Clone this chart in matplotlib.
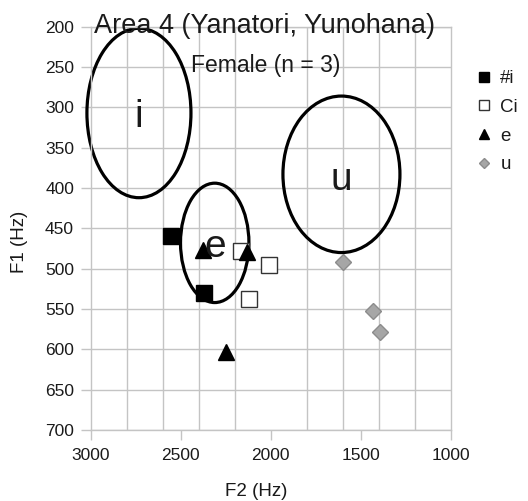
import matplotlib
matplotlib.use('Agg')
import matplotlib.pyplot as plt
from matplotlib.patches import Ellipse
from matplotlib.lines import Line2D

plt.rcParams['font.family'] = ['Liberation Sans', 'DejaVu Sans']

# ── Data (F2, F1 in Hz) ──────────────────────────────────────────────────
HASH_I_F2 = [2556, 2371]
HASH_I_F1 = [460, 530]
CI_F2 = [2167, 2008, 2122]
CI_F1 = [478, 495, 538]
E_F2 = [2376, 2133, 2248]
E_F1 = [477, 479, 603]
U_F2 = [1597, 1433, 1391]
U_F1 = [492, 553, 579]

# reference vowel ellipses: label, centre F2, centre F1, half-width F2, half-height F1
VOWEL_LABELS = ['i', 'e', 'u']
VOWEL_F2 = [2732, 2311, 1607]
VOWEL_F1 = [307, 468, 383]
VOWEL_W = [289, 190, 325]
VOWEL_H = [105, 74, 97]
LABEL_F1 = [324, 486, 402]   # baseline of letter inside ellipse

X_TICKS = [3000, 2500, 2000, 1500, 1000]
Y_TICKS = list(range(200, 701, 50))

GRID = '#c4c4c4'
TXT = '#1a1a1a'

fig = plt.figure(figsize=(5.28, 5.01), dpi=100)
ax = fig.add_axes([90.7 / 528, 1 - 430 / 501, 360 / 528, 403.3 / 501])

ax.set_xlim(3000, 1000)
ax.set_ylim(700, 200)
ax.set_xticks(X_TICKS)
ax.set_xticks(range(1000, 3001, 200), minor=True)
ax.set_yticks(Y_TICKS)
ax.grid(True, which='minor', axis='x', color=GRID, linewidth=1)
ax.grid(True, which='major', axis='y', color=GRID, linewidth=1)
ax.tick_params(axis='x', which='minor', length=0)
ax.tick_params(which='major', length=7, color=GRID, width=1,
               labelsize=12.5, labelcolor=TXT, pad=5)
ax.tick_params(axis='x', which='major', pad=6)
for s in ax.spines.values():
    s.set_color(GRID)
    s.set_linewidth(1)
ax.set_axisbelow(True)

# ellipses + letters
for lab, cx, cy, w, h, ly in zip(VOWEL_LABELS, VOWEL_F2, VOWEL_F1,
                                 VOWEL_W, VOWEL_H, LABEL_F1):
    ax.add_patch(Ellipse((cx, cy), 2 * w, 2 * h, fill=False,
                         edgecolor='black', linewidth=2.3, zorder=2,
                         clip_on=False))
    ax.text(cx, ly, lab, fontsize=28, ha='center', va='baseline',
            color=TXT, zorder=4)

# data points
ax.plot(HASH_I_F2, HASH_I_F1, ls='none', marker='s', ms=12,
        mfc='black', mec='black', zorder=3, clip_on=False)
ax.plot(CI_F2, CI_F1, ls='none', marker='s', ms=11.5,
        mfc='white', mec='#333333', mew=1, zorder=3)
ax.plot(E_F2, E_F1, ls='none', marker='^', ms=11,
        mfc='black', mec='black', zorder=3)
ax.plot(U_F2, U_F1, ls='none', marker='D', ms=8,
        mfc='#a6a6a6', mec='#8c8c8c', mew=1, zorder=3)

# titles
fig.text(265 / 528, 1 - 33 / 501, 'Area 4 (Yanatori, Yunohana)',
         fontsize=19.5, ha='center', va='baseline', color=TXT)
fig.text(266 / 528, 1 - 72 / 501, 'Female (n = 3)',
         fontsize=16.5, ha='center', va='baseline', color=TXT)

# axis labels
fig.text(255.7 / 528, 1 - 491.7 / 501, 'F2 (Hz)', fontsize=13.5,
         ha='center', va='center', color=TXT)
fig.text(19 / 528, 1 - 242 / 501, 'F1 (Hz)', fontsize=13.5, rotation=90,
         ha='center', va='center', color=TXT)

# legend
handles = [
    Line2D([], [], ls='none', marker='s', ms=7.5, mfc='black', mec='black'),
    Line2D([], [], ls='none', marker='s', ms=7.5, mfc='white', mec='#333333'),
    Line2D([], [], ls='none', marker='^', ms=7.5, mfc='black', mec='black'),
    Line2D([], [], ls='none', marker='D', ms=5.5, mfc='#a6a6a6', mec='#8c8c8c'),
]
fig.legend(handles, ['#i', 'Ci', 'e', 'u'], loc='upper left',
           bbox_to_anchor=(476 / 528, 1 - 70 / 501), frameon=False,
           fontsize=13.5, handlelength=0.8, handletextpad=0.5,
           labelspacing=0.62, borderpad=0, borderaxespad=0,
           labelcolor=TXT)

fig.savefig('out.png', dpi=100)
